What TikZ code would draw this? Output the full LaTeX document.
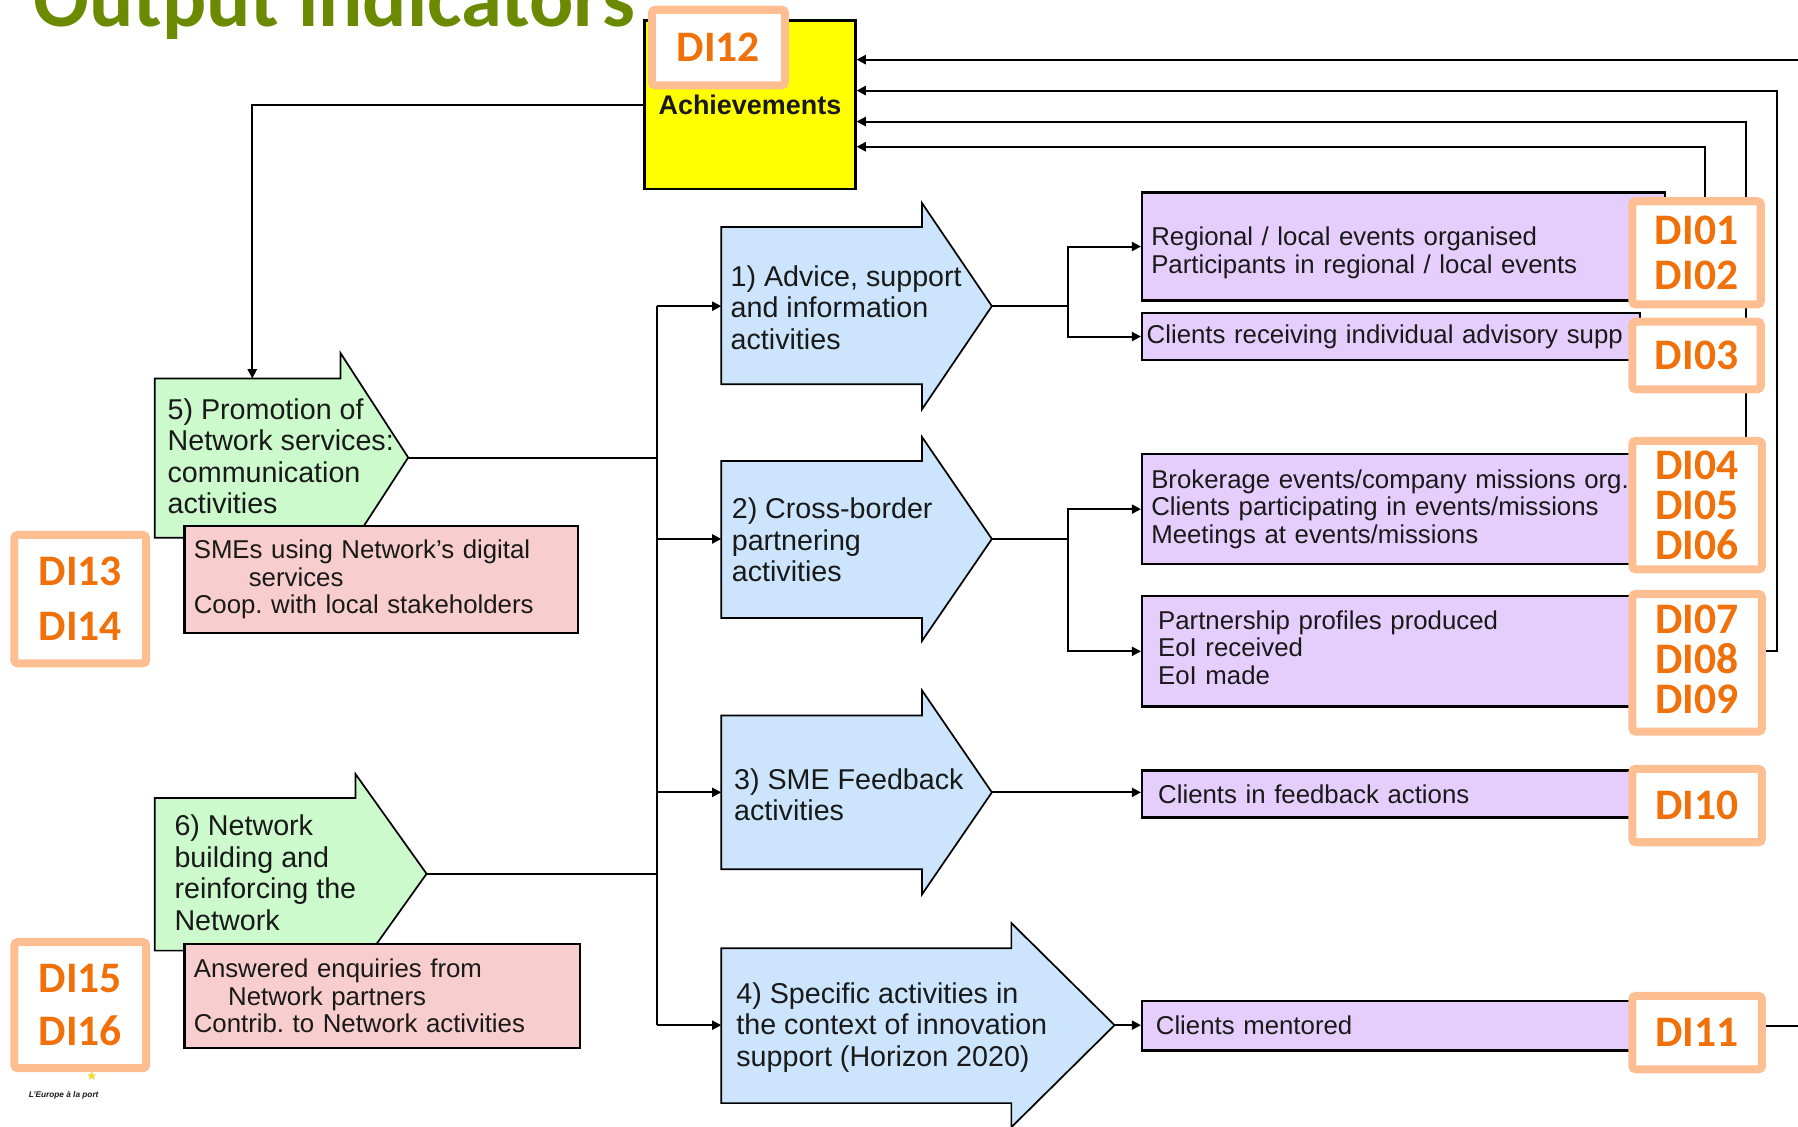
\documentclass[tikz,border=0pt]{standalone}
\usepackage{fontspec}
\setmainfont{Liberation Sans}
\newfontfamily\carlito{Carlito}
\newfontfamily\dejavu{DejaVu Sans}
\usetikzlibrary{arrows.meta}
\frenchspacing
\definecolor{titlegreen}{RGB}{107,138,0}
\definecolor{badgeorange}{RGB}{240,112,10}
\definecolor{badgeedge}{RGB}{253,190,145}
\definecolor{bluefill}{RGB}{204,229,252}
\definecolor{greenfill}{RGB}{204,250,204}
\definecolor{pinkfill}{RGB}{248,205,205}
\definecolor{purplefill}{RGB}{229,206,252}
\definecolor{achyellow}{RGB}{255,255,0}
\definecolor{inktext}{RGB}{25,25,25}
\definecolor{stary}{RGB}{245,215,40}
\tikzset{
  conn/.style={draw=black, line width=1.7pt},
  arr/.style={conn, -{Triangle[length=8pt,width=8pt]}},
  bluearrow/.style={draw=black, line width=1.5pt, fill=bluefill},
  greenarrow/.style={draw=black, line width=1.5pt, fill=greenfill},
  arrowtext/.style={font=\fontsize{25}{27.5}\selectfont, text=inktext, align=left, anchor=west, inner sep=0pt},
  pbox/.style={draw=black, line width=2pt, fill=purplefill, text=inktext, font=\fontsize{22.5}{24}\selectfont, align=left, inner ysep=0pt, minimum width=434pt},
  pinkbox/.style={draw=black, line width=2pt, fill=pinkfill, text=inktext, font=\fontsize{22.5}{24}\selectfont, align=left, inner ysep=0pt, inner xsep=8pt},
  achbox/.style={draw=black, line width=2pt, fill=achyellow, text=inktext, minimum width=184pt, minimum height=147pt, inner sep=0pt, font=\bfseries\fontsize{23.5}{26}\selectfont},
  badge/.style={draw=badgeedge, line width=7pt, fill=white, rounded corners=3pt, text=badgeorange, align=center, inner sep=0pt, font=\carlito\bfseries\fontsize{38}{#1}\selectfont},
  badge/.default=40
}
\begin{document}
\begin{tikzpicture}[x=1pt,y=-1pt]
\clip (0,0) rectangle (1568,982);
\fill[white] (0,0) rectangle (1568,982);

% title
\node[anchor=base west, inner sep=0pt, text=titlegreen, font=\carlito\bfseries\fontsize{72}{72}\selectfont] (title) at (29,23) {Output indicators};

% achievements box
\node[achbox] (ach) at (654,91.3) {Achievements};

% green arrows
\draw[greenarrow] (135,330) -- (297,330) -- (297,308) -- (356,399) -- (297,490) -- (297,469) -- (135,469) -- cycle;
\coordinate (g5top) at (220,330);
\coordinate (g5tip) at (356,399);
\node[arrowtext] (t5) at (146,398) {5) Promotion of\\Network services:\\communication\\activities};

\draw[greenarrow] (135,696) -- (310,696) -- (310,675) -- (372,762) -- (310,849) -- (310,829) -- (135,829) -- cycle;
\coordinate (g6tip) at (372,762);
\node[arrowtext] (t6) at (152,761) {6) Network\\building and\\reinforcing the\\Network};

% blue arrows
\draw[bluearrow] (629,198) -- (804,198) -- (804,177) -- (865,267) -- (804,357) -- (804,335) -- (629,335) -- cycle;
\coordinate (ain1) at (629,267);
\coordinate (atip1) at (865,267);
\node[arrowtext] (t1) at (637,268) {1) Advice, support\\and information\\activities};

\draw[bluearrow] (629,402) -- (804,402) -- (804,381) -- (865,470) -- (804,559) -- (804,539) -- (629,539) -- cycle;
\coordinate (ain2) at (629,470);
\coordinate (atip2) at (865,470);
\node[arrowtext] (t2) at (638,471) {2) Cross-border\\partnering\\activities};

\draw[bluearrow] (629,624) -- (804,624) -- (804,602) -- (865,691) -- (804,780) -- (804,758) -- (629,758) -- cycle;
\coordinate (ain3) at (629,691);
\coordinate (atip3) at (865,691);
\node[arrowtext] (t3) at (640,693) {3) SME Feedback\\activities};

\draw[bluearrow] (629,827) -- (882,827) -- (882,805) -- (972,894) -- (882,983) -- (882,962) -- (629,962) -- cycle;
\coordinate (ain4) at (629,894);
\coordinate (atip4) at (972,894);
\node[arrowtext] (t4) at (642,896) {4) Specific activities in\\the context of innovation\\support (Horizon 2020)};

% pink boxes
\node[pinkbox, minimum width=343pt, minimum height=93pt, text width=327pt] (pk1) at (332.5,505.5) {SMEs using Network's digital\\\hspace*{48pt}services\\Coop. with local stakeholders};
\node[pinkbox, minimum width=345pt, minimum height=91pt, text width=329pt] (pk2) at (333.5,868.5) {Answered enquiries from\\\hspace*{30pt}Network partners\\Contrib. to Network activities};

% purple boxes
\node[pbox, minimum width=456pt, minimum height=94pt, text width=440pt, inner xsep=8pt] (p1) at (1224,215) {\rule{0pt}{27pt}Regional / local events organised\\Participants in regional / local events};
\node[pbox, minimum height=41pt, text width=426pt, inner xsep=4pt] (p2) at (1213,293.5) {Clients receiving individual advisory supp};
\node[pbox, minimum height=96pt, text width=418pt, inner xsep=8pt] (p3) at (1213,444) {Brokerage events/company missions org.\\Clients participating in events/missions\\Meetings at events/missions};
\node[pbox, minimum height=96pt, text width=406pt, inner xsep=14pt] (p4) at (1213,568) {Partnership profiles produced\\EoI received\\EoI made\rule[-7pt]{0pt}{7pt}};
\node[pbox, minimum height=41pt, text width=406pt, inner xsep=14pt] (p5) at (1213,692.5) {Clients in feedback actions};
\node[pbox, minimum height=43pt, text width=410pt, inner xsep=12pt] (p6) at (1213,894.5) {Clients mentored};

% connectors
\coordinate (trunk) at (573,0);
\coordinate (split) at (931,0);
\draw[arr] (ach.west) -| (g5top);
\draw[conn] (g5tip) -- (g5tip -| trunk);
\draw[conn] (g6tip) -- (g6tip -| trunk);
\draw[conn] (ain1 -| trunk) -- (ain4 -| trunk);
\foreach \i in {1,2,3,4} {
  \draw[arr] (ain\i -| trunk) -- (ain\i);
}
\draw[conn] (atip1) -- (atip1 -| split);
\draw[arr] (atip1 -| split) |- (p1.west);
\draw[arr] (atip1 -| split) |- (p2.west);
\draw[conn] (atip2) -- (atip2 -| split);
\draw[arr] (atip2 -| split) |- (p3.west);
\draw[arr] (atip2 -| split) |- (p4.west);
\draw[arr] (atip3) -- (atip3 -| p5.west);
\draw[arr] (atip4) -- (atip4 -| p6.west);

% feedback loops into Achievements
\coordinate (fb1) at (1620,52);
\coordinate (fb2) at (1550,79);
\coordinate (fb3) at (1523,106);
\coordinate (fb4) at (1487,128);
\coordinate (b0102c) at (1479.5,220.5);
\coordinate (b0406c) at (1480,440.5);
\draw[arr] (p6.east) -| (fb1) -- (ach.east |- fb1);
\draw[arr] (p4.east) -| (fb2) -- (ach.east |- fb2);
\draw[arr] (b0406c -| fb3) -- (fb3) -- (ach.east |- fb3);
\draw[arr] (b0102c -| fb4) -- (fb4) -- (ach.east |- fb4);

% small star under the badge
\node[text=stary, font=\dejavu\fontsize{11}{11}\selectfont, inner sep=0pt] (star) at (80,938) {★};

% badges
\node[badge=40, minimum width=112pt, minimum height=90pt] (b0102) at (b0102c) {DI01\\DI02};
\node[badge=35, minimum width=113pt, minimum height=112pt] (b0406) at (b0406c) {DI04\\DI05\\DI06};
\node[badge, minimum width=116pt, minimum height=66pt] (b12) at (626.5,41.5) {DI12};
\node[badge, minimum width=112pt, minimum height=59pt] (b03) at (1479.5,310) {DI03};
\node[badge=35, minimum width=113pt, minimum height=120pt] (b0709) at (1480,578) {DI07\\DI08\\DI09\rule[-6pt]{0pt}{6pt}};
\node[badge, minimum width=113pt, minimum height=64pt] (b10) at (1480,702.5) {DI10};
\node[badge, minimum width=113pt, minimum height=64pt] (b11) at (1480,900.5) {DI11};
\node[badge=48, minimum width=115pt, minimum height=112pt] (b1314) at (70,522.5) {DI13\\DI14};
\node[badge=46, minimum width=115pt, minimum height=110pt] (b1516) at (70,876.5) {DI15\\DI16};

\node[anchor=west, inner sep=0pt, text=inktext, font=\bfseries\itshape\fontsize{7.2}{8}\selectfont] (europe) at (25,955) {L'Europe à la port};
\end{tikzpicture}
\end{document}
